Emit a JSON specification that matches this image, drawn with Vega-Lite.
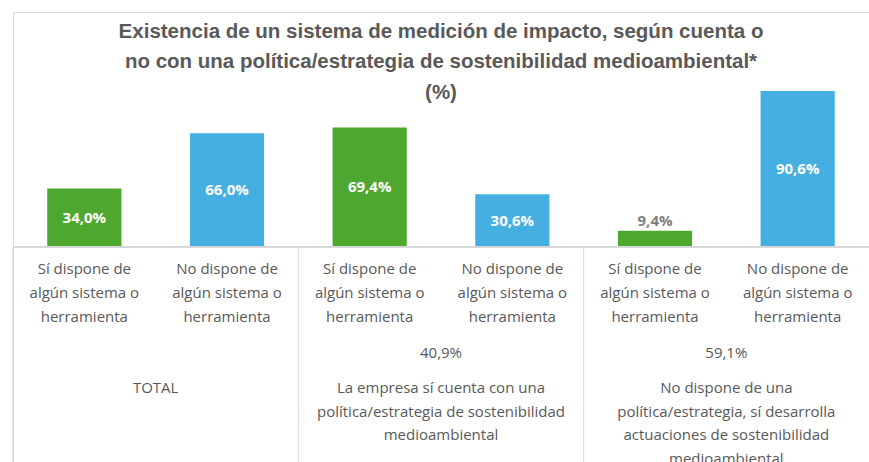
{
  "$schema": "https://vega.github.io/schema/vega-lite/v6.json",
  "autosize": {"type": "none"},
  "padding": {"left": 13, "top": 12, "right": 0, "bottom": 0},
  "width": 856,
  "height": 450,
  "background": "white",
  "config": {
    "view": {"stroke": "#d9d9d9", "strokeWidth": 1},
    "text": {"font": "Open Sans", "lineBreak": "\n"}
  },
  "title": {
    "text": ["Existencia de un sistema de medición de impacto, según cuenta o", "no con una política/estrategia de sostenibilidad medioambiental*", "(%)"],
    "orient": "top",
    "anchor": "middle",
    "offset": -91,
    "font": "Liberation Sans",
    "fontSize": 20.5,
    "fontWeight": "bold",
    "color": "#595959",
    "lineHeight": 30.5
  },
  "datasets": {
    "bars": [
      {"id": "T-si", "tipo": "Sí", "valor": 34.0, "etiqueta": "34,0%", "sub": "Sí dispone de\nalgún sistema o\nherramienta"},
      {"id": "T-no", "tipo": "No", "valor": 66.0, "etiqueta": "66,0%", "sub": "No dispone de\nalgún sistema o\nherramienta"},
      {"id": "C-si", "tipo": "Sí", "valor": 69.4, "etiqueta": "69,4%", "sub": "Sí dispone de\nalgún sistema o\nherramienta"},
      {"id": "C-no", "tipo": "No", "valor": 30.6, "etiqueta": "30,6%", "sub": "No dispone de\nalgún sistema o\nherramienta"},
      {"id": "N-si", "tipo": "Sí", "valor": 9.4, "etiqueta": "9,4%", "sub": "Sí dispone de\nalgún sistema o\nherramienta"},
      {"id": "N-no", "tipo": "No", "valor": 90.6, "etiqueta": "90,6%", "sub": "No dispone de\nalgún sistema o\nherramienta"}
    ],
    "groups": [
      {"id": "T-si", "pct": "", "grupo": "TOTAL"},
      {"id": "C-si", "pct": "40,9%", "grupo": "La empresa sí cuenta con una\npolítica/estrategia de sostenibilidad\nmedioambiental"},
      {"id": "N-si", "pct": "59,1%", "grupo": "No dispone de una\npolítica/estrategia, sí desarrolla\nactuaciones de sostenibilidad\nmedioambiental"}
    ]
  },
  "resolve": {"scale": {"y": "independent"}},
  "layer": [
    {
      "data": {"name": "bars"},
      "mark": {"type": "bar", "width": {"band": 0.52}},
      "encoding": {
        "x": {"field": "id", "type": "nominal", "axis": null, "sort": null,
              "scale": {"domain": ["T-si", "T-no", "C-si", "C-no", "N-si", "N-no"], "paddingInner": 0, "paddingOuter": 0}},
        "y": {"field": "valor", "type": "quantitative", "axis": null, "scale": {"domain": [-124.9, 136.5], "nice": false, "zero": false}},
        "color": {"field": "tipo", "type": "nominal", "legend": null, "scale": {"domain": ["Sí", "No"], "range": ["#4ea72e", "#46afe2"]}}
      }
    },
    {
      "data": {"name": "bars"},
      "mark": {"type": "rule", "color": "#d9d9d9", "strokeWidth": 1},
      "encoding": {
        "y": {"datum": 0, "type": "quantitative", "axis": null, "scale": {"domain": [-124.9, 136.5], "nice": false, "zero": false}}
      }
    },
    {
      "data": {"name": "groups"},
      "mark": {"type": "rule", "color": "#d9d9d9", "strokeWidth": 1},
      "encoding": {
        "x": {"field": "id", "type": "nominal", "axis": null, "bandPosition": 0,
              "scale": {"domain": ["T-si", "T-no", "C-si", "C-no", "N-si", "N-no"], "paddingInner": 0, "paddingOuter": 0}},
        "y": {"datum": 0, "type": "quantitative", "axis": null, "scale": {"domain": [-124.9, 136.5], "nice": false, "zero": false}},
        "y2": {"datum": -130}
      }
    },
    {
      "data": {"name": "bars"},
      "transform": [{"filter": "datum.valor >= 20"}],
      "mark": {"type": "text", "color": "white", "fontWeight": "bold", "fontSize": 15, "baseline": "middle"},
      "encoding": {
        "x": {"field": "id", "type": "nominal", "axis": null,
              "scale": {"domain": ["T-si", "T-no", "C-si", "C-no", "N-si", "N-no"], "paddingInner": 0, "paddingOuter": 0}},
        "y": {"field": "valor", "type": "quantitative", "axis": null, "scale": {"domain": [-249.8, 273], "nice": false, "zero": false}},
        "text": {"field": "etiqueta"}
      }
    },
    {
      "data": {"name": "bars"},
      "transform": [{"filter": "datum.valor < 20"}],
      "mark": {"type": "text", "color": "#808080", "fontWeight": "bold", "fontSize": 15, "baseline": "bottom", "dy": -2},
      "encoding": {
        "x": {"field": "id", "type": "nominal", "axis": null,
              "scale": {"domain": ["T-si", "T-no", "C-si", "C-no", "N-si", "N-no"], "paddingInner": 0, "paddingOuter": 0}},
        "y": {"field": "valor", "type": "quantitative", "axis": null, "scale": {"domain": [-124.9, 136.5], "nice": false, "zero": false}},
        "text": {"field": "etiqueta"}
      }
    },
    {
      "data": {"name": "bars"},
      "mark": {"type": "text", "color": "#595959", "fontSize": 15, "baseline": "top", "lineHeight": 24},
      "encoding": {
        "x": {"field": "id", "type": "nominal", "axis": null,
              "scale": {"domain": ["T-si", "T-no", "C-si", "C-no", "N-si", "N-no"], "paddingInner": 0, "paddingOuter": 0}},
        "y": {"datum": -8.5, "type": "quantitative", "axis": null, "scale": {"domain": [-124.9, 136.5], "nice": false, "zero": false}},
        "text": {"field": "sub"}
      }
    },
    {
      "data": {"name": "groups"},
      "mark": {"type": "text", "color": "#595959", "fontSize": 15, "baseline": "middle"},
      "encoding": {
        "x": {"field": "id", "type": "nominal", "axis": null, "bandPosition": 1,
              "scale": {"domain": ["T-si", "T-no", "C-si", "C-no", "N-si", "N-no"], "paddingInner": 0, "paddingOuter": 0}},
        "y": {"datum": -61.6, "type": "quantitative", "axis": null, "scale": {"domain": [-124.9, 136.5], "nice": false, "zero": false}},
        "text": {"field": "pct"}
      }
    },
    {
      "data": {"name": "groups"},
      "mark": {"type": "text", "color": "#595959", "fontSize": 15, "baseline": "top", "lineHeight": 23.5},
      "encoding": {
        "x": {"field": "id", "type": "nominal", "axis": null, "bandPosition": 1,
              "scale": {"domain": ["T-si", "T-no", "C-si", "C-no", "N-si", "N-no"], "paddingInner": 0, "paddingOuter": 0}},
        "y": {"datum": -78, "type": "quantitative", "axis": null, "scale": {"domain": [-124.9, 136.5], "nice": false, "zero": false}},
        "text": {"field": "grupo"}
      }
    }
  ]
}
